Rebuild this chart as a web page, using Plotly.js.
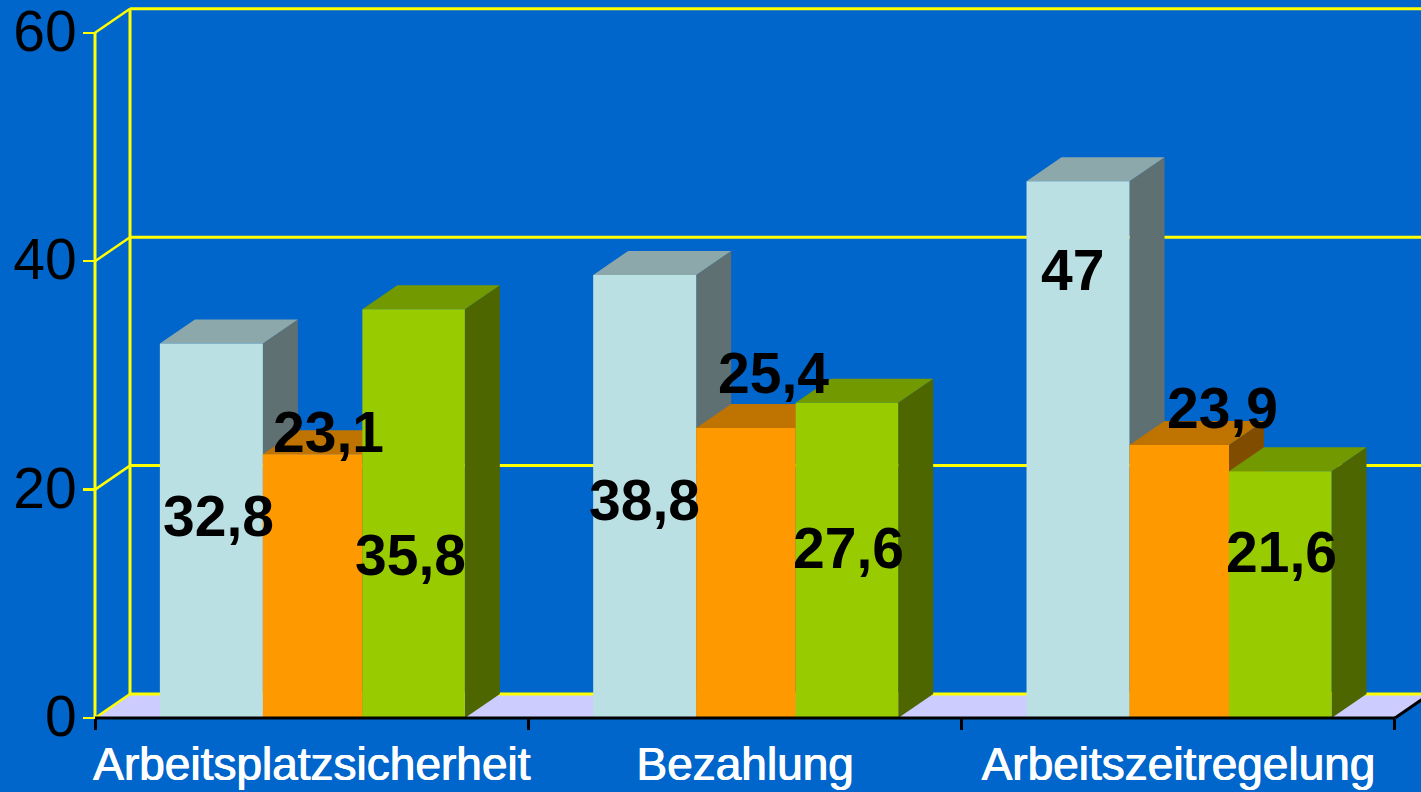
<!DOCTYPE html>
<html><head><meta charset="utf-8">
<script src="https://cdn.plot.ly/plotly-3.0.1.min.js"></script>
<style>html,body{margin:0;padding:0;background:#0066CC;overflow:hidden}#c{width:1421px;height:792px}</style>
</head><body><div id="c"></div>
<script>
const categories = ["Arbeitsplatzsicherheit","Bezahlung","Arbeitszeitregelung"];
const seriesA = [32.8,38.8,47];
const seriesB = [23.1,25.4,23.9];
const seriesC = [35.8,27.6,21.6];
const labelsA = ["32,8","38,8","47"];
const labelsB = ["23,1","25,4","23,9"];
const labelsC = ["35,8","27,6","21,6"];
const yTicks = [0,20,40,60];

// styling and layout constants
const frontColors = ["#BBE0E3","#FF9900","#99CC00"];
const topColors = ["#8CA8AA","#BF7300","#739900"];
const sideColors = ["#5E7072","#804D00","#4D6600"];
const labelX = [[-.216,.767,1.755],[.038,1.065,2.103],[.227,1.24,2.239]];
const labelY = [[17.69,19.09,39.23],[25.04,30.21,27.15],[14.27,14.89,14.54]];
const W=1421,H=792,pxX=433.33,pxY=11.42,x0=95,y0=718;
const xRange=[-0.5-x0/pxX,-0.5+(W-x0)/pxX], yRange=[-(H-y0)/pxY,y0/pxY];
const dx=35/pxX, dy=24/pxY;
const barWidths=[103/pxX,99.5/pxX,102.5/pxX];
const barOffsets=[-151.8/pxX,-48.8/pxX,50.7/pxX];
const series=[seriesA,seriesB,seriesC], labels=[labelsA,labelsB,labelsC];

const path=(pts,fill)=>({type:'path',xref:'x',yref:'y',layer:'below',fillcolor:fill,line:{width:0},
  path:'M'+pts.map(p=>p[0]+' '+p[1]).join(' L')+' Z'});
const seg=(x1,y1,x2,y2,color,width,layer)=>({type:'line',xref:'x',yref:'y',layer:layer||'below',x0:x1,y0:y1,x1:x2,y1:y2,line:{color,width}});

const L=-0.5,R=2.5;
const shapes=[];
shapes.push(path([[L,0],[L+dx,dy],[R+dx,dy],[R,0]],'#CCCCFF'));
shapes.push(seg(L+dx,dy,L+dx,60+dy,'#FFFF00',3));
yTicks.forEach(v=>{
  shapes.push(seg(L,v,L+dx,v+dy,'#FFFF00',2.5));
  shapes.push(seg(L+dx,v+dy,R+dx,v+dy,'#FFFF00',3));
});
shapes.push(seg(L,0,L,60,'#FFFF00',3));
series.forEach((vals,s)=>vals.forEach((v,c)=>{
  const a=c+barOffsets[s],b=a+barWidths[s];
  shapes.push(path([[b,0],[b+dx,dy],[b+dx,v+dy],[b,v]],sideColors[s]));
  shapes.push(path([[a,v],[b,v],[b+dx,v+dy],[a+dx,v+dy]],topColors[s]));
}));
shapes.push(seg(L,0,R,0,'#000000',3,'above'));
shapes.push(seg(R,0,R+dx,dy,'#000000',3));

const traces=series.map((vals,s)=>({type:'bar',x:categories,y:vals,width:barWidths[s],offset:barOffsets[s],
  marker:{color:frontColors[s],line:{width:0}},hoverinfo:'skip'}));

const annotations=[];
labels.forEach((arr,s)=>arr.forEach((t,c)=>annotations.push({
  x:labelX[s][c],y:labelY[s][c],xref:'x',yref:'y',text:t,showarrow:false,xanchor:'center',yanchor:'middle',
  font:{family:'Liberation Sans',size:57,color:'#000000',weight:700}
})));

const layout={
  width:W,height:H,margin:{l:0,r:0,t:0,b:0},paper_bgcolor:'#0066CC',plot_bgcolor:'#0066CC',
  showlegend:false,barmode:'overlay',
  font:{family:'Liberation Sans'},
  xaxis:{type:'category',categoryorder:'array',categoryarray:categories,range:xRange,domain:[0,1],anchor:'free',position:(H-y0)/H,
    tickangle:0,tickson:'boundaries',ticks:'outside',ticklen:11,tickwidth:3,tickcolor:'#000000',showgrid:false,zeroline:false,showline:false,
    tickfont:{size:46,color:'#FFFFFF',family:'Liberation Sans',shadow:'0.7px 0 0 #FFFFFF, -0.3px 0 0 #FFFFFF'},ticklabelstandoff:15,ticklabeloverflow:'allow'},
  yaxis:{range:yRange,domain:[0,1],anchor:'free',position:x0/W,tickvals:yTicks,ticktext:yTicks.map(String),
    ticks:'outside',ticklen:12,tickwidth:2.5,tickcolor:'#FFFF00',showgrid:false,zeroline:false,showline:false,ticklabeloverflow:'allow',
    tickfont:{size:57,color:'#000000',family:'Liberation Sans'},ticklabelstandoff:-5,ticklabelshift:-2},
  shapes,annotations
};
Plotly.newPlot('c',traces,layout,{staticPlot:true,displayModeBar:false});
</script></body></html>
